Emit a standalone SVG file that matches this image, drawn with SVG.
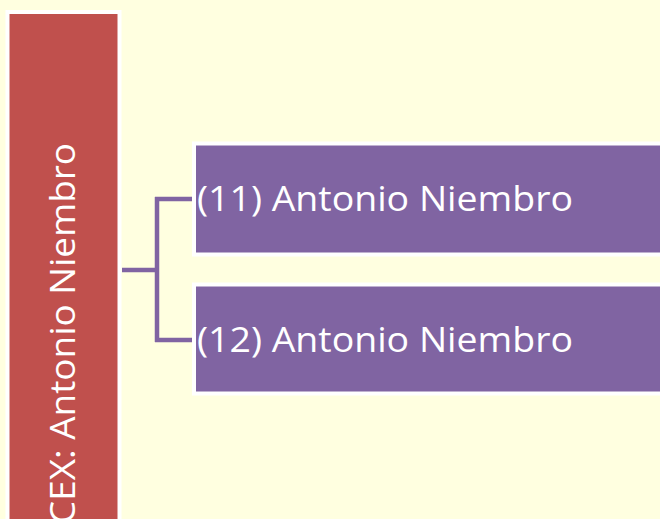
<svg xmlns="http://www.w3.org/2000/svg" width="660" height="519" viewBox="0 0 660 519">
<style>
.lbl{font-family:"Open Sans","Noto Sans",sans-serif;font-size:34px;fill:#ffffff}
.conn{fill:none;stroke:#8064a2;stroke-width:4.5;stroke-linejoin:miter}
.child{fill:#8064a2;stroke:#ffffff;stroke-width:4}
</style>
<rect x="0" y="0" width="660" height="519" fill="#ffffe0"/>
<g id="root">
<rect x="7.5" y="12" width="112" height="520" fill="#c0504d" stroke="#ffffff" stroke-width="4"/>
<text class="lbl" transform="translate(75,524) rotate(-90)" textLength="381" lengthAdjust="spacingAndGlyphs">CEX: Antonio Niembro</text>
</g>
<g id="connectors">
<path class="conn" d="M122,270 H157 M157,197 V342 M155,199 H192 M155,340 H192"/>
</g>
<g id="n11">
<rect class="child" x="194" y="143.5" width="470" height="111"/>
<text class="lbl" x="197" y="211" textLength="376" lengthAdjust="spacingAndGlyphs">(11) Antonio Niembro</text>
</g>
<g id="n12">
<rect class="child" x="194" y="284.5" width="470" height="109"/>
<text class="lbl" x="197" y="351.5" textLength="376" lengthAdjust="spacingAndGlyphs">(12) Antonio Niembro</text>
</g>
</svg>
